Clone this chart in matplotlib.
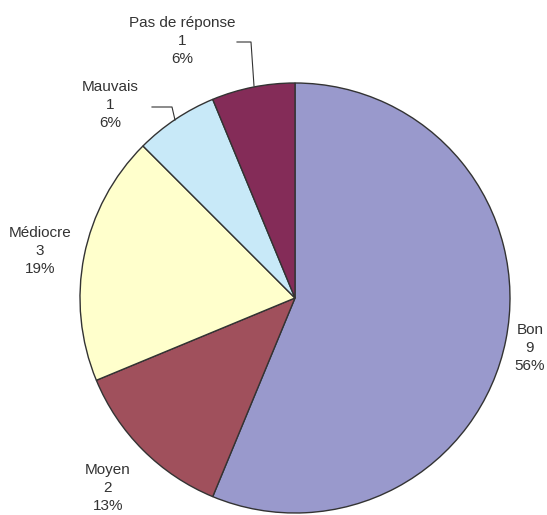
import matplotlib.pyplot as plt

categories = ['Bon', 'Moyen', 'Médiocre', 'Mauvais', 'Pas de réponse']
values = [9, 2, 3, 1, 1]
percents = [56, 13, 19, 6, 6]
colors = ['#9999CC', '#A0505C', '#FFFFCC', '#C8E9F8', '#842C58']

# label positions in pixels (x, y from top)
label_pos = [(530, 348), (108, 488), (40, 251), (110, 105), (182, 41)]

H = 515
plt.rcParams['font.family'] = ['Liberation Sans', 'DejaVu Sans']

fig = plt.figure(figsize=(5.47, 5.15), dpi=100)
ax = fig.add_axes([0, 0, 1, 1])

ax.pie(values, colors=colors, startangle=90, counterclock=False,
       radius=215, center=(295, H - 298), frame=True,
       wedgeprops=dict(edgecolor='#333333', linewidth=1))
ax.set_xlim(0, 547)
ax.set_ylim(0, H)
ax.set_aspect('equal')
ax.axis('off')

for name, v, p, (x, y) in zip(categories, values, percents, label_pos):
    ax.text(x, H - y, f'{name}\n{v}\n{p}%', ha='center', va='center',
            fontsize=11, color='#333333', linespacing=1.4)

# leader lines
ax.plot([237, 251, 254], [H - 42, H - 42, H - 86], color='#333333', lw=0.8)
ax.plot([152, 172, 175], [H - 107, H - 107, H - 120], color='#333333', lw=0.8)

fig.savefig('out.png', dpi=100)
